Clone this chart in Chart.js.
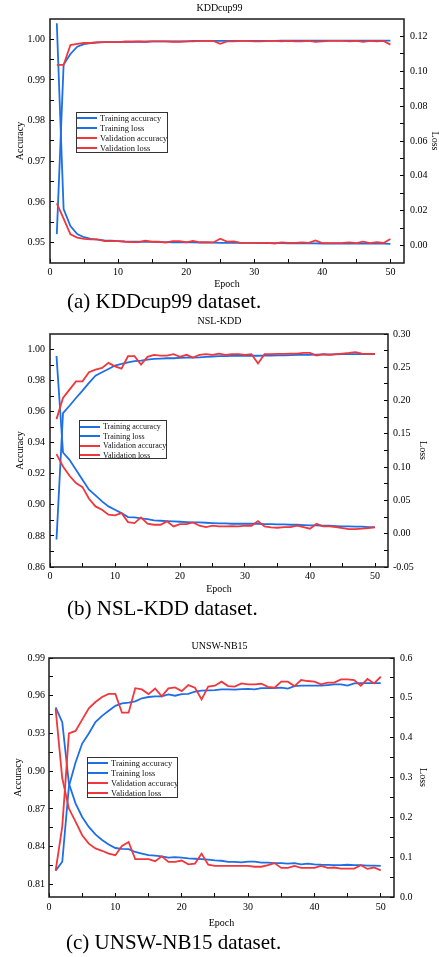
<!DOCTYPE html>
<html><head><meta charset="utf-8">
<script src="https://cdn.jsdelivr.net/npm/chart.js@4.4.1/dist/chart.umd.min.js"></script>
<style>
html,body{margin:0;padding:0;background:#fff;}
body{width:439px;height:957px;position:relative;overflow:hidden;font-family:"Liberation Serif","Times New Roman",serif;}
canvas{position:absolute;left:0;z-index:0;}
.cap{position:absolute;font-size:21px;line-height:21px;white-space:nowrap;color:#000;z-index:2;}
.leg{position:absolute;border:1px solid #333;background:#fff;box-sizing:border-box;z-index:3;}
.leg .row{display:flex;align-items:center;white-space:nowrap;color:#111;}
.leg .ln{width:20px;height:2px;margin-right:3px;flex:none;}
</style></head><body>
<canvas id="c1" width="439" height="292" style="top:0px"></canvas>
<canvas id="c2" width="439" height="286" style="top:311px"></canvas>
<canvas id="c3" width="439" height="298" style="top:633px"></canvas>
<div class="cap" style="left:67px;top:291px">(a) KDDcup99 dataset.</div>
<div class="cap" style="left:67px;top:598px">(b) NSL-KDD dataset.</div>
<div class="cap" style="left:66px;top:932px">(c) UNSW-NB15 dataset.</div>
<div class="leg" id="l1"></div>
<div class="leg" id="l2"></div>
<div class="leg" id="l3"></div>
<script>
// ---------- data ----------
const epochs = [1,2,3,4,5,6,7,8,9,10,11,12,13,14,15,16,17,18,19,20,21,22,23,24,25,26,27,28,29,30,31,32,33,34,35,36,37,38,39,40,41,42,43,44,45,46,47,48,49,50];
const seriesNames = ['Training accuracy','Training loss','Validation accuracy','Validation loss'];
const epochTickLabels = [0,10,20,30,40,50];

// KDDcup99
const kddTrainAcc = [0.9521,0.9938,0.9964,0.9982,0.9988,0.9991,0.9992,0.9993,0.9993,0.9993,0.9994,0.9994,0.9994,0.9994,0.9995,0.9995,0.9995,0.9995,0.9995,0.9995,0.9996,0.9996,0.9996,0.9996,0.9996,0.9996,0.9996,0.9996,0.9996,0.9996,0.9996,0.9996,0.9996,0.9997,0.9997,0.9997,0.9997,0.9997,0.9997,0.9997,0.9997,0.9997,0.9997,0.9997,0.9997,0.9997,0.9997,0.9997,0.9997,0.9997];
const kddTrainLoss = [0.1276,0.0210,0.0112,0.0066,0.0048,0.0039,0.0034,0.0030,0.0028,0.0026,0.0024,0.0023,0.0022,0.0021,0.0021,0.0020,0.0020,0.0019,0.0019,0.0018,0.0018,0.0017,0.0017,0.0017,0.0016,0.0016,0.0016,0.0016,0.0015,0.0015,0.0014,0.0014,0.0014,0.0014,0.0013,0.0013,0.0013,0.0013,0.0013,0.0012,0.0012,0.0012,0.0012,0.0012,0.0011,0.0011,0.0011,0.0011,0.0011,0.0010];
const kddValAcc = [0.9937,0.9937,0.9986,0.9989,0.9991,0.9991,0.9993,0.9993,0.9993,0.9993,0.9994,0.9994,0.9995,0.9994,0.9995,0.9995,0.9995,0.9994,0.9994,0.9995,0.9995,0.9996,0.9996,0.9996,0.9989,0.9995,0.9995,0.9996,0.9996,0.9995,0.9995,0.9996,0.9996,0.9995,0.9996,0.9995,0.9995,0.9996,0.9994,0.9995,0.9996,0.9996,0.9996,0.9995,0.9996,0.9994,0.9996,0.9995,0.9996,0.9987];
const kddValLoss = [0.0242,0.0155,0.0064,0.0046,0.0038,0.0036,0.0035,0.0026,0.0026,0.0025,0.0022,0.0020,0.0020,0.0028,0.0022,0.0022,0.0017,0.0026,0.0025,0.0019,0.0027,0.0019,0.0019,0.0018,0.0039,0.0023,0.0024,0.0015,0.0015,0.0015,0.0015,0.0015,0.0012,0.0018,0.0015,0.0016,0.0018,0.0016,0.0030,0.0014,0.0014,0.0014,0.0015,0.0018,0.0014,0.0022,0.0014,0.0020,0.0015,0.0038];
const kddAccTicks = [0.95,0.96,0.97,0.98,0.99,1.00];
const kddLossTicks = [0.00,0.02,0.04,0.06,0.08,0.10,0.12];

// NSL-KDD
const nslTrainAcc = [0.8777,0.9591,0.9638,0.9688,0.9735,0.9785,0.9832,0.9854,0.9875,0.9897,0.9907,0.9918,0.9925,0.9929,0.9935,0.9940,0.9942,0.9944,0.9944,0.9946,0.9948,0.9948,0.9950,0.9953,0.9955,0.9957,0.9958,0.9959,0.9960,0.9960,0.9960,0.9960,0.9961,0.9961,0.9962,0.9963,0.9964,0.9965,0.9966,0.9966,0.9967,0.9968,0.9968,0.9969,0.9970,0.9970,0.9971,0.9970,0.9970,0.9970];
const nslTrainLoss = [0.267,0.122,0.111,0.096,0.081,0.066,0.0575,0.0485,0.041,0.036,0.031,0.025,0.0245,0.023,0.022,0.020,0.0195,0.019,0.0185,0.018,0.0175,0.017,0.017,0.0165,0.016,0.0155,0.0155,0.015,0.015,0.015,0.015,0.015,0.0145,0.0145,0.014,0.014,0.0135,0.0135,0.013,0.0125,0.0125,0.012,0.012,0.0115,0.011,0.011,0.0105,0.0105,0.010,0.010];
const nslValAcc = [0.9552,0.9688,0.9742,0.9795,0.9795,0.9854,0.9871,0.9882,0.9914,0.9892,0.9877,0.9957,0.9957,0.9903,0.9953,0.9966,0.9961,0.9961,0.9970,0.9953,0.9966,0.9948,0.9966,0.9970,0.9966,0.9974,0.9966,0.9970,0.9970,0.9966,0.9970,0.9910,0.9970,0.9970,0.9972,0.9972,0.9974,0.9974,0.9978,0.9978,0.9961,0.9970,0.9966,0.9970,0.9974,0.9978,0.9983,0.9974,0.9972,0.9972];
const nslValLoss = [0.1195,0.101,0.087,0.076,0.070,0.0525,0.041,0.036,0.0285,0.0275,0.031,0.0175,0.016,0.0245,0.015,0.0135,0.0135,0.0185,0.011,0.0145,0.0145,0.017,0.012,0.010,0.012,0.011,0.011,0.0115,0.011,0.012,0.012,0.019,0.011,0.0095,0.009,0.010,0.010,0.012,0.010,0.0075,0.015,0.011,0.011,0.010,0.0085,0.007,0.007,0.0075,0.0085,0.0095];
const nslAccTicks = [0.86,0.88,0.90,0.92,0.94,0.96,0.98,1.00];
const nslLossTicks = [-0.05,0.00,0.05,0.10,0.15,0.20,0.25,0.30];

// UNSW-NB15
const unswTrainAcc = [0.821,0.828,0.888,0.907,0.922,0.930,0.939,0.944,0.948,0.952,0.954,0.9545,0.9555,0.958,0.959,0.9595,0.9595,0.961,0.960,0.9613,0.9615,0.9632,0.964,0.9643,0.9645,0.965,0.965,0.9648,0.9652,0.9655,0.965,0.966,0.966,0.966,0.9665,0.9657,0.9677,0.968,0.968,0.968,0.968,0.9685,0.969,0.969,0.968,0.9698,0.970,0.970,0.970,0.970];
const unswTrainLoss = [0.476,0.439,0.285,0.235,0.201,0.176,0.157,0.143,0.132,0.123,0.121,0.120,0.113,0.109,0.105,0.104,0.102,0.099,0.100,0.099,0.097,0.096,0.095,0.094,0.092,0.091,0.088,0.088,0.087,0.089,0.089,0.0865,0.0865,0.085,0.085,0.084,0.085,0.082,0.084,0.082,0.081,0.0805,0.080,0.080,0.081,0.080,0.080,0.079,0.079,0.078];
const unswValAcc = [0.821,0.856,0.930,0.932,0.941,0.950,0.955,0.959,0.9615,0.9615,0.9465,0.9465,0.966,0.965,0.9613,0.9658,0.9595,0.9658,0.9666,0.9637,0.9685,0.9664,0.9571,0.9672,0.968,0.9712,0.9677,0.9672,0.9698,0.969,0.969,0.9695,0.967,0.9664,0.9712,0.9712,0.9677,0.9725,0.9717,0.9712,0.969,0.9704,0.9704,0.973,0.973,0.9725,0.968,0.9733,0.9698,0.9751];
const unswValLoss = [0.472,0.298,0.222,0.189,0.155,0.134,0.122,0.116,0.109,0.105,0.128,0.138,0.095,0.095,0.095,0.090,0.102,0.088,0.088,0.0915,0.082,0.084,0.109,0.081,0.078,0.078,0.078,0.078,0.078,0.078,0.076,0.076,0.080,0.085,0.073,0.073,0.078,0.073,0.073,0.073,0.078,0.073,0.074,0.0713,0.0713,0.0713,0.0797,0.0705,0.074,0.067];
const unswAccTicks = [0.81,0.84,0.87,0.90,0.93,0.96,0.99];
const unswLossTicks = [0.0,0.1,0.2,0.3,0.4,0.5,0.6];

// ---------- helpers ----------
const FONT = "'Liberation Serif','Times New Roman',serif";
const BLUE = 'rgb(30,110,230)';
const RED = 'rgb(240,55,60)';

function withMinors(majors, min, max) {
  const step = majors[1] - majors[0];
  const all = majors.slice();
  for (let i = 0; i < majors.length - 1; i++) all.push((majors[i] + majors[i+1]) / 2);
  const lo = majors[0] - step/2, hi = majors[majors.length-1] + step/2;
  if (lo > min + 1e-9) all.push(lo);
  if (hi < max - 1e-9) all.push(hi);
  return all.sort((a,b) => a-b);
}
function isMajor(v, majors) { return majors.some(m => Math.abs(m - v) < 1e-9); }
function pts(vals) { return epochs.map((e,i) => ({x: e, y: vals[i]})); }

const framePlugin = {
  id: 'frame',
  afterDraw(chart) {
    const {ctx, chartArea: a} = chart;
    ctx.save();
    ctx.strokeStyle = '#1a1a1a';
    ctx.lineWidth = 1.5;
    ctx.strokeRect(a.left, a.top, a.right - a.left, a.bottom - a.top);
    ctx.restore();
  }
};

function makeChart(cfg) {
  const font = {family: FONT, size: 10, weight: 'normal'};
  const xTicks = withMinors(epochTickLabels, 0, 52);
  const accTicks = withMinors(cfg.accMajors, cfg.accMin, cfg.accMax);
  const lossTicks = withMinors(cfg.lossMajors, cfg.lossMin, cfg.lossMax);
  const gridOpt = {display: true, drawOnChartArea: false, drawTicks: true, tickLength: -4, color: '#000', lineWidth: 1};
  const chart = new Chart(document.getElementById(cfg.id), {
    type: 'line',
    data: {
      datasets: [
        {label: seriesNames[0], data: pts(cfg.trainAcc), yAxisID: 'y', borderColor: BLUE, order: 2},
        {label: seriesNames[1], data: pts(cfg.trainLoss), yAxisID: 'y1', borderColor: BLUE, order: 2},
        {label: seriesNames[2], data: pts(cfg.valAcc), yAxisID: 'y', borderColor: RED, order: 1},
        {label: seriesNames[3], data: pts(cfg.valLoss), yAxisID: 'y1', borderColor: RED, order: 1}
      ]
    },
    options: {
      responsive: false,
      animation: false,
      devicePixelRatio: 1,
      layout: {padding: 0},
      elements: {point: {radius: 0}, line: {borderWidth: 1.8, tension: 0, fill: false}},
      plugins: {
        legend: {display: false},
        tooltip: {enabled: false},
        title: {display: true, text: cfg.title, font: font, color: '#000', padding: cfg.titlePad}
      },
      scales: {
        x: {
          type: 'linear', position: 'bottom', min: 0, max: 52,
          afterBuildTicks: s => { s.ticks = xTicks.map(v => ({value: v})); },
          afterFit: s => { s.height = cfg.xH; },
          ticks: {autoSkip: false, maxRotation: 0, padding: cfg.xPad, font: font, color: '#000',
            callback: v => isMajor(v, epochTickLabels) ? String(Math.round(v)) : ''},
          grid: gridOpt, border: {display: false},
          title: {display: true, text: 'Epoch', font: font, color: '#000', padding: {top: 0, bottom: 2}}
        },
        y: {
          type: 'linear', position: 'left', min: cfg.accMin, max: cfg.accMax,
          afterBuildTicks: s => { s.ticks = accTicks.map(v => ({value: v})); },
          afterFit: s => { s.width = cfg.leftW; },
          ticks: {autoSkip: false, padding: cfg.leftPad, font: font, color: '#000',
            callback: v => isMajor(v, cfg.accMajors) ? v.toFixed(2) : ''},
          grid: gridOpt, border: {display: false},
          title: {display: true, text: 'Accuracy', font: font, color: '#000', padding: {top: cfg.accTitlePad, bottom: 0}}
        },
        y1: {
          type: 'linear', position: 'right', min: cfg.lossMin, max: cfg.lossMax,
          afterBuildTicks: s => { s.ticks = lossTicks.map(v => ({value: v})); },
          afterFit: s => { s.width = cfg.rightW; },
          ticks: {autoSkip: false, padding: cfg.rightPad, font: font, color: '#000',
            callback: v => isMajor(v, cfg.lossMajors) ? v.toFixed(cfg.lossDec) : ''},
          grid: gridOpt, border: {display: false},
          title: {display: true, text: 'Loss', font: font, color: '#000', padding: {top: cfg.lossTitlePad, bottom: 0}}
        }
      }
    },
    plugins: [framePlugin]
  });
  // HTML legend built from the datasets
  const leg = document.getElementById(cfg.legId);
  const L = cfg.leg;
  Object.assign(leg.style, {left: L.left + 'px', top: L.top + 'px', width: L.w + 'px', height: L.h + 'px', paddingTop: L.pt + 'px'});
  chart.data.datasets.forEach(ds => {
    const row = document.createElement('div');
    row.className = 'row';
    row.style.height = L.rowH + 'px';
    row.style.fontSize = L.fs + 'px';
    const ln = document.createElement('span');
    ln.className = 'ln';
    ln.style.background = ds.borderColor;
    const tx = document.createElement('span');
    tx.textContent = ds.label;
    row.appendChild(ln); row.appendChild(tx);
    leg.appendChild(row);
  });
  return chart;
}

makeChart({
  id: 'c1', legId: 'l1', title: 'KDDcup99', titlePad: {top: 2, bottom: 5},
  trainAcc: kddTrainAcc, trainLoss: kddTrainLoss, valAcc: kddValAcc, valLoss: kddValLoss,
  accMajors: kddAccTicks, accMin: 0.945, accMax: 1.005,
  lossMajors: kddLossTicks, lossMin: -0.01, lossMax: 0.13, lossDec: 2,
  xH: 29, xPad: 7, leftW: 50, leftPad: 9, rightW: 35, rightPad: 10,
  accTitlePad: 14, lossTitlePad: -2,
  leg: {left: 76, top: 112, w: 92, h: 41, pt: 0, rowH: 10, fs: 8.5}
});
makeChart({
  id: 'c2', legId: 'l2', title: 'NSL-KDD', titlePad: {top: 4, bottom: 7},
  trainAcc: nslTrainAcc, trainLoss: nslTrainLoss, valAcc: nslValAcc, valLoss: nslValLoss,
  accMajors: nslAccTicks, accMin: 0.86, accMax: 1.01,
  lossMajors: nslLossTicks, lossMin: -0.05, lossMax: 0.30, lossDec: 2,
  xH: 30, xPad: 7, leftW: 50, leftPad: 9, rightW: 51, rightPad: 9,
  accTitlePad: 14, lossTitlePad: 10,
  leg: {left: 79, top: 420, w: 88, h: 39, pt: 1, rowH: 9.5, fs: 8}
});
makeChart({
  id: 'c3', legId: 'l3', title: 'UNSW-NB15', titlePad: {top: 7, bottom: 6},
  trainAcc: unswTrainAcc, trainLoss: unswTrainLoss, valAcc: unswValAcc, valLoss: unswValLoss,
  accMajors: unswAccTicks, accMin: 0.80, accMax: 0.99,
  lossMajors: unswLossTicks, lossMin: 0.0, lossMax: 0.6, lossDec: 1,
  xH: 34, xPad: 8, leftW: 49, leftPad: 8, rightW: 45, rightPad: 10,
  accTitlePad: 12, lossTitlePad: 10,
  leg: {left: 87, top: 757, w: 91, h: 41, pt: 0, rowH: 10, fs: 8.5}
});
</script>
</body></html>
